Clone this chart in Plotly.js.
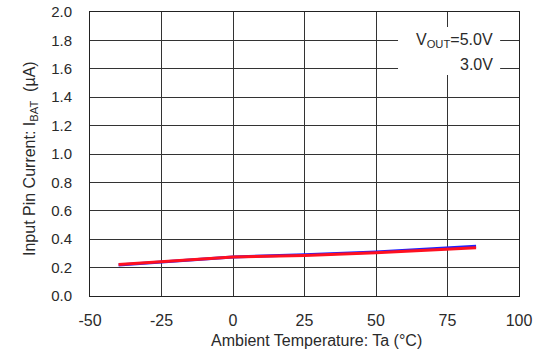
<!DOCTYPE html>
<html><head><meta charset="utf-8">
<script src="https://cdn.plot.ly/plotly-3.0.1.min.js"></script>
<style>html,body{margin:0;padding:0;background:#fff}#c{width:541px;height:349px}</style>
</head><body><div id="c"></div>
<script>
const temps = [-40, 0, 25, 50, 85];
const ibat50 = [0.218, 0.275, 0.29, 0.31, 0.35];
const ibat30 = [0.222, 0.275, 0.285, 0.305, 0.34];
const xTicks = [-50, -25, 0, 25, 50, 75, 100];
const yTicks = [0, 0.2, 0.4, 0.6, 0.8, 1.0, 1.2, 1.4, 1.6, 1.8, 2.0];
const legendLabels = ['V<sub>OUT</sub>=5.0V', '3.0V'];
const xTitle = 'Ambient Temperature: Ta (°C)';
const yTitle = 'Input Pin Current: I<sub>BAT</sub>  (µA)';

const fam = 'Liberation Sans, Arial, sans-serif';
const col = '#2a2a2a';
const traces = [
  {x: temps, y: ibat50, mode: 'lines', line: {color: '#2020ff', width: 3}, name: legendLabels[0]},
  {x: temps, y: ibat30, mode: 'lines', line: {color: '#ff1020', width: 3}, name: legendLabels[1]}
];
const layout = {
  width: 541, height: 349,
  margin: {l: 90, r: 22, t: 12, b: 53},
  paper_bgcolor: '#fff', plot_bgcolor: '#fff',
  showlegend: false,
  font: {family: fam, size: 16, color: col},
  xaxis: {
    range: [-50, 100], tickvals: xTicks, ticktext: xTicks.map(String),
    tickfont: {family: fam, size: 16, color: col},
    showgrid: true, gridcolor: '#333', gridwidth: 1,
    showline: true, linecolor: '#222', linewidth: 1, mirror: true,
    zeroline: false, ticks: 'outside', ticklen: 10, tickcolor: 'rgba(0,0,0,0)'
  },
  yaxis: {
    range: [0, 2], tickvals: yTicks, ticktext: yTicks.map(v => v.toFixed(1)),
    tickfont: {family: fam, size: 15, color: col},
    showgrid: true, gridcolor: '#333', gridwidth: 1,
    showline: true, linecolor: '#222', linewidth: 1, mirror: true,
    zeroline: false, ticks: 'outside', ticklen: 14, tickcolor: 'rgba(0,0,0,0)'
  },
  shapes: [
    {type: 'rect', xref: 'x', yref: 'y', x0: 57.7, x1: 93.4, y0: 1.556, y1: 1.894,
     fillcolor: '#fff', line: {width: 0}, layer: 'above'}
  ],
  annotations: [
    {xref: 'x', yref: 'y', x: 91.5, y: 1.80, text: legendLabels[0], showarrow: false, xanchor: 'right', yanchor: 'middle', font: {family: fam, size: 16, color: col}},
    {xref: 'x', yref: 'y', x: 91.5, y: 1.63, text: legendLabels[1], showarrow: false, xanchor: 'right', yanchor: 'middle', font: {family: fam, size: 16, color: col}},
    {xref: 'paper', yref: 'paper', x: 316, y: 340, text: xTitle, showarrow: false, xanchor: 'center', yanchor: 'middle', font: {family: fam, size: 16, color: col}},
    {xref: 'paper', yref: 'paper', x: 30, y: 159, text: yTitle, textangle: -90, showarrow: false, xanchor: 'center', yanchor: 'middle', font: {family: fam, size: 16, color: col}}
  ]
};
// convert pixel positions for axis-title annotations to paper fractions
const pw = 541 - 90 - 22, ph = 349 - 12 - 53;
layout.annotations[2].x = (316 - 90) / pw; layout.annotations[2].y = (349 - 53 - 340) / ph;
layout.annotations[3].x = (30 - 90) / pw; layout.annotations[3].y = (296 - 159) / ph;
Plotly.newPlot('c', traces, layout, {staticPlot: true, displayModeBar: false});
</script></body></html>
